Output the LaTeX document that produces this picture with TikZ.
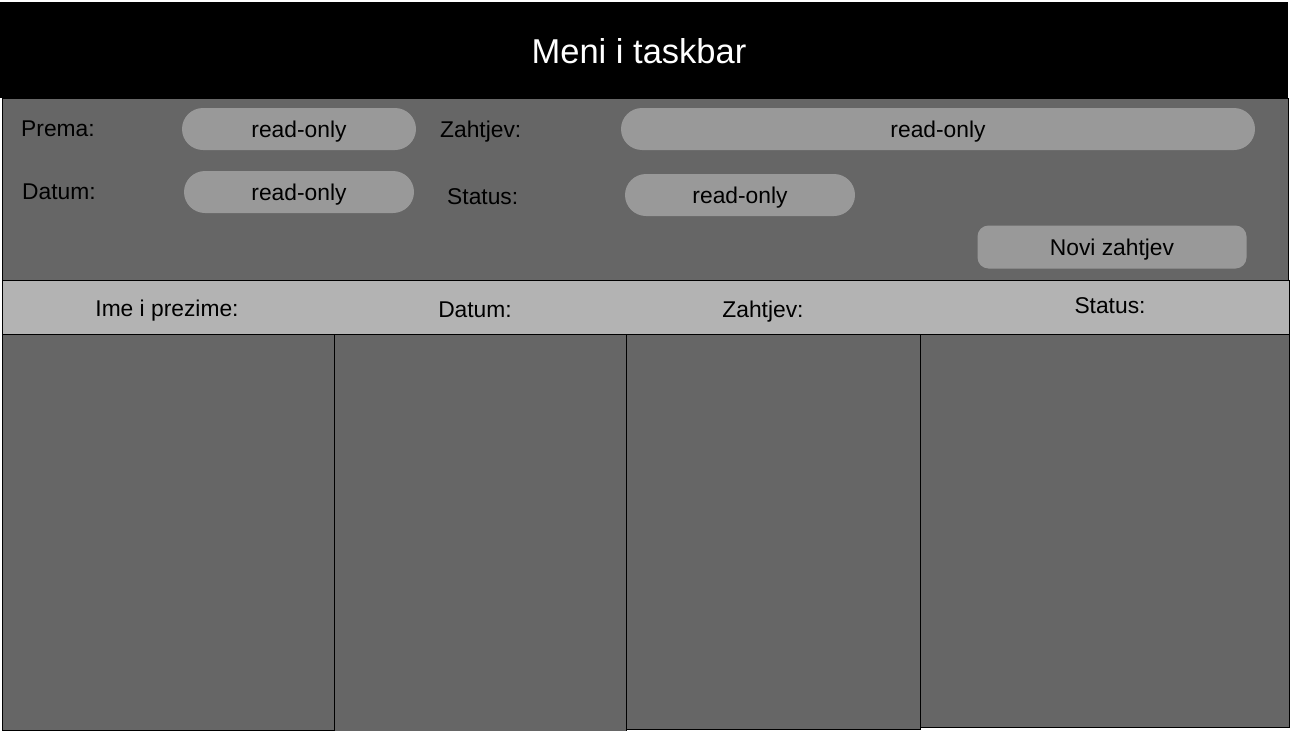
\documentclass[tikz,border=0pt]{standalone}
\usepackage{fontspec}
\setmainfont{Liberation Sans}
\definecolor{panelgray}{HTML}{666666}
\definecolor{pillgray}{HTML}{999999}
\definecolor{headgray}{HTML}{B3B3B3}

\begin{document}
\begin{tikzpicture}[x=1pt, y=-1pt,
    pill/.style={fill=pillgray, rounded corners=21pt, minimum height=42pt, inner sep=0pt, text depth=0pt, font=\fontsize{22.8}{27}\selectfont},
    field/.style={anchor=west, inner sep=0pt, text depth=0pt, font=\fontsize{22.8}{27}\selectfont},
    colhead/.style={inner sep=0pt, text depth=0pt, font=\fontsize{22.8}{27}\selectfont}]
    \useasboundingbox (0,0) rectangle (1291,731);

    % Menu bar
    \fill[black] (0,2) rectangle (1288,98);
    \node[text=white, font=\fontsize{34.5}{40}\selectfont] (title) at (639,51) {Meni i taskbar};

    % Form panel
    \draw[fill=panelgray, line width=1pt] (2,98) rectangle (1288,280);

    \node[field] (premaLbl) at (21,129) {Prema:};
    \node[pill, minimum width=234pt] (premaBox) at (299,129) {read-only};
    \node[field] (datumLbl) at (22,192) {Datum:};
    \node[pill, minimum width=230pt] (datumBox) at (299,192) {read-only};

    \node[field] (zahtjevLbl) at (440,129) {Zahtjev:};
    \node[pill, minimum width=634pt] (zahtjevBox) at (938,129) {read-only};
    \node[field] (statusLbl) at (447,197) {Status:};
    \node[pill, minimum width=230pt] (statusBox) at (740,195) {read-only};

    \node[pill, rounded corners=11pt, minimum width=269pt, minimum height=43pt] (novi) at (1112,247) {Novi zahtjev};

    % Table header
    \draw[fill=headgray, line width=1pt] (2,280) rectangle (1289,334);
    \node[colhead] (imeHead) at (167,308) {Ime i prezime:};
    \node[colhead] (datumHead) at (475,310) {Datum:};
    \node[colhead] (zahtjevHead) at (763,309) {Zahtjev:};
    \node[colhead] (statusHead) at (1110,306) {Status:};

    % Table columns
    \draw[fill=panelgray, line width=1pt] (2,334) rectangle (334,730);
    \draw[fill=panelgray, line width=1pt] (334,334) rectangle (626,731);
    \draw[fill=panelgray, line width=1pt] (626,334) rectangle (920,729);
    \draw[fill=panelgray, line width=1pt] (920,334) rectangle (1289,727);
\end{tikzpicture}
\end{document}
